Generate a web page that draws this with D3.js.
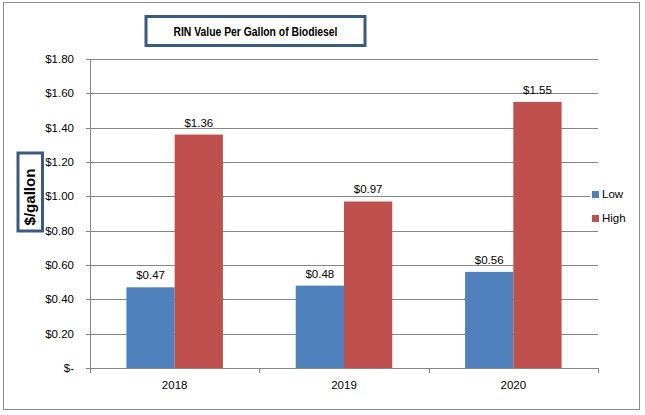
<!DOCTYPE html>
<html><head><meta charset="utf-8">
<script src="https://cdn.jsdelivr.net/npm/d3@7"></script>
<style>body{margin:0;background:#fff;} svg{display:block;}</style>
</head><body>
<svg id="c" width="645" height="415"></svg>
<script>
const categories = ["2018", "2019", "2020"];
const seriesNames = ["Low", "High"];
const lowValues = [0.47, 0.48, 0.56];
const highValues = [1.36, 0.97, 1.55];
const yTicks = [0, 0.2, 0.4, 0.6, 0.8, 1.0, 1.2, 1.4, 1.6, 1.8];
const colors = ["#4f81bd", "#c0504d"];
const title = "RIN Value Per Gallon of Biodiesel";
const yTitle = "$/gallon";

const svg = d3.select("#c");
const font = "'Liberation Sans', Arial, sans-serif";
svg.append("rect").attr("x", 3.5).attr("y", 2.5).attr("width", 636).attr("height", 407)
  .attr("fill", "#fff").attr("stroke", "#8c8c8c").attr("stroke-width", 1);

const L = 90, R = 598, T = 59, B = 368;
const x = d3.scaleBand().domain(categories).range([L, R]).paddingInner(0.43).paddingOuter(0.215);
const xs = d3.scaleBand().domain(seriesNames).range([0, x.bandwidth()]);
const y = d3.scaleLinear().domain([0, 1.8]).range([B, T]);

// gridlines
svg.append("g").selectAll("line").data(yTicks).join("line")
  .attr("x1", L - 4).attr("x2", R).attr("y1", d => Math.round(y(d)) + 0.5).attr("y2", d => Math.round(y(d)) + 0.5)
  .attr("stroke", "#868686").attr("stroke-width", 1);

const fmt = d => d === 0 ? "$-" : "$" + d.toFixed(2);
svg.append("g").selectAll("text").data(yTicks).join("text")
  .attr("x", 74).attr("y", d => y(d) + 4).attr("text-anchor", "end")
  .attr("font-family", font).attr("font-size", 11.5).attr("fill", "#000").text(fmt);

// axis line
svg.append("line").attr("x1", L + 0.5).attr("x2", L + 0.5).attr("y1", T).attr("y2", B).attr("stroke", "#868686");
// x category boundary ticks
const bounds = [L, ...categories.map((c, i) => L + (R - L) * (i + 1) / categories.length)];
svg.append("g").selectAll("line").data(bounds).join("line")
  .attr("x1", d => Math.round(d) + 0.5).attr("x2", d => Math.round(d) + 0.5)
  .attr("y1", B).attr("y2", B + 5).attr("stroke", "#868686");

const data = [];
categories.forEach((c, i) => {
  data.push({c, s: "Low", v: lowValues[i], col: colors[0]});
  data.push({c, s: "High", v: highValues[i], col: colors[1]});
});
svg.append("g").selectAll("rect").data(data).join("rect")
  .attr("x", d => x(d.c) + xs(d.s)).attr("width", xs.bandwidth())
  .attr("y", d => y(d.v)).attr("height", d => y(0) - y(d.v)).attr("fill", d => d.col);
svg.append("g").selectAll("text").data(data).join("text")
  .attr("x", d => x(d.c) + xs(d.s) + xs.bandwidth() / 2).attr("y", d => y(d.v) - 8)
  .attr("text-anchor", "middle").attr("font-family", font).attr("font-size", 11.5)
  .text(d => "$" + d.v.toFixed(2));

svg.append("g").selectAll("text").data(categories).join("text")
  .attr("x", d => x(d) + x.bandwidth() / 2).attr("y", 389).attr("text-anchor", "middle")
  .attr("font-family", font).attr("font-size", 11.5).text(d => d);

// legend
const lg = svg.append("g");
lg.append("rect").attr("x", 590).attr("y", 184).attr("width", 45).attr("height", 42).attr("fill", "#fff");
seriesNames.forEach((s, i) => {
  lg.append("rect").attr("x", 592).attr("y", 191 + i * 24).attr("width", 7).attr("height", 7).attr("fill", colors[i]);
  lg.append("text").attr("x", 602).attr("y", 198 + i * 24).attr("font-family", font).attr("font-size", 11.5).text(s);
});

// title box
svg.append("rect").attr("x", 146).attr("y", 16.5).attr("width", 219).attr("height", 29)
  .attr("fill", "#fff").attr("stroke", "#395a84").attr("stroke-width", 3);
svg.append("text").attr("x", 255.5).attr("y", 36).attr("text-anchor", "middle")
  .attr("font-family", font).attr("font-size", 13).attr("font-weight", "bold")
  .attr("textLength", 164).attr("lengthAdjust", "spacingAndGlyphs").text(title);

// y title box
svg.append("rect").attr("x", 18).attr("y", 153).attr("width", 24.5).attr("height", 78)
  .attr("fill", "#fff").attr("stroke", "#395a84").attr("stroke-width", 3);
svg.append("text").attr("transform", "translate(35,197) rotate(-90)").attr("text-anchor", "middle")
  .attr("font-family", font).attr("font-size", 14).attr("font-weight", "bold")
  .attr("textLength", 57).attr("lengthAdjust", "spacingAndGlyphs").text(yTitle);
</script>
</body></html>
